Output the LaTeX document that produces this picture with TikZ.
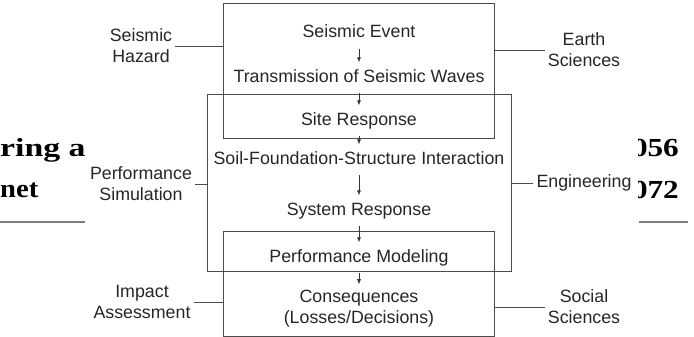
\documentclass[tikz,border=0pt]{standalone}
\usepackage{fontspec}
\setmainfont{Liberation Sans}
\newfontfamily\hdrfont{Liberation Serif}
\usetikzlibrary{arrows.meta}
\tikzset{
  stage/.style={inner xsep=2pt, inner ysep=7pt, text height=12.5pt, text depth=3.5pt, text=black!85},
  side/.style={align=center, inner sep=3pt, text=black!85},
  frame/.style={draw=black!70, line width=1pt, inner sep=0pt},
  flow/.style={-{Latex[length=5pt,width=4pt]}, black!80, line width=0.6pt},
  tie/.style={black!70, line width=0.8pt},
  hdr/.style={font=\hdrfont\bfseries\fontsize{26}{28}\selectfont, inner sep=0pt},
  rule/.style={black!50, line width=1.5pt}
}
\begin{document}
\begin{tikzpicture}[x=1pt,y=-1pt]
\fontsize{17.8}{21}\selectfont
\useasboundingbox (0,0) rectangle (694,337);
% page header showing round the figure
\begin{scope}
\clip (0,0) rectangle (84,337);
\node[hdr, anchor=base west] (hdrl1) at (0,157) {\scalebox{1.3}[1]{ring an}};
\end{scope}
\node[hdr, anchor=base west] (hdrl2) at (0,197) {\scalebox{1.1}[1]{net}};
\begin{scope}
\clip (638,0) rectangle (694,337);
\node[hdr, anchor=base east] (hdrr1) at (679,157) {\scalebox{1.2}[1]{056}};
\node[hdr, anchor=base east] (hdrr2) at (679,198) {\scalebox{1.2}[1]{072}};
\end{scope}
\draw[rule] (0,222) -- (85,222);
\draw[rule] (639,222) -- (688,222);
% boxes
\node[frame, minimum width=271, minimum height=134] (hazbox) at (358.5,71) {};
\node[frame, minimum width=304, minimum height=176] (simbox) at (359,183) {};
\node[frame, minimum width=271, minimum height=105] (impbox) at (358.5,283.5) {};
% chain
\node[stage] (ev) at (359,33.5) {Seismic Event};
\node[stage] (tr) at (359,77.5) {Transmission of Seismic Waves};
\node[stage] (si) at (359,120.5) {Site Response};
\node[stage] (sf) at (359,159.5) {Soil-Foundation-Structure Interaction};
\node[stage] (sy) at (359,210.5) {System Response};
\node[stage] (pm) at (359,257.5) {Performance Modeling};
\node[align=center, inner ysep=6pt, text=black!85] (co) at (359,309) {Consequences\\(Losses/Decisions)};
\draw[flow] (ev) -- (tr);
\draw[flow] (tr) -- (si);
\draw[flow] (si) -- (sf);
\draw[flow] (sf) -- (sy);
\draw[flow] (sy) -- (pm);
\draw[flow] (pm) -- (co);
% side labels
\node[side] (hz) at (141,46) {Seismic\\Hazard};
\node[side] (es) at (584,50) {Earth\\Sciences};
\node[side] (ps) at (141,184) {Performance\\Simulation};
\node[side] (en) at (584,183) {Engineering};
\node[side] (ia) at (142,302) {Impact\\Assessment};
\node[side] (ss) at (584,307) {Social\\Sciences};
\draw[tie] (hz.east) -- (hz.east -| hazbox.west);
\draw[tie] (es.west) -- (es.west -| hazbox.east);
\draw[tie] (ps.east) -- (ps.east -| simbox.west);
\draw[tie] (en.west) -- (en.west -| simbox.east);
\draw[tie] (ia.east) -- (ia.east -| impbox.west);
\draw[tie] (ss.west) -- (ss.west -| impbox.east);
\end{tikzpicture}
\end{document}
